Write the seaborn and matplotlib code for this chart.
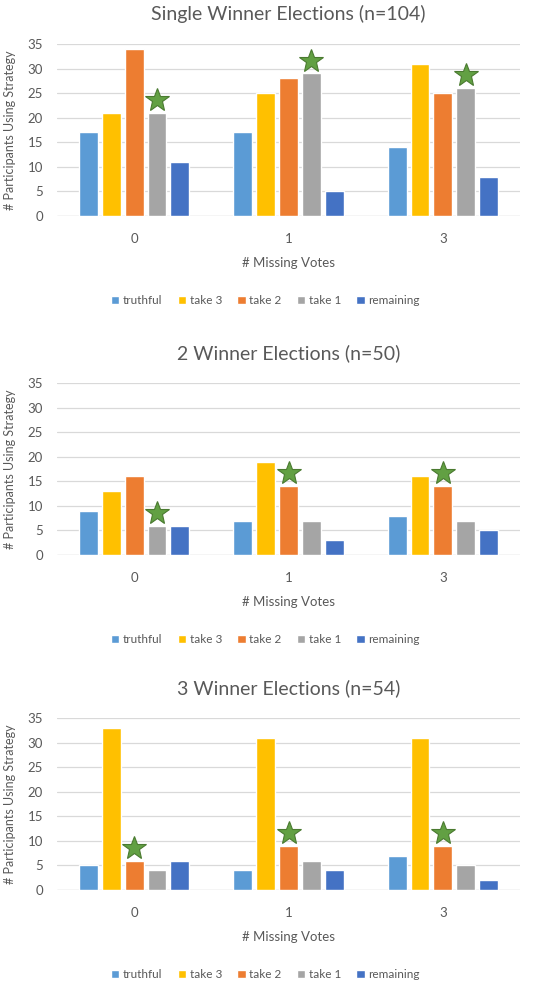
import pandas as pd
import matplotlib.pyplot as plt
import seaborn as sns
from matplotlib.patches import Patch

sns.set_style("white")
plt.rcParams['font.family'] = ['Lato', 'DejaVu Sans']

# data
missing_votes = ['0', '1', '3']
strategies = ['truthful', 'take 3', 'take 2', 'take 1', 'remaining']
colors = ['#5B9BD5', '#FFC000', '#ED7D31', '#A5A5A5', '#4472C4']

titles = ['Single Winner Elections (n=104)',
          '2 Winner Elections (n=50)',
          '3 Winner Elections (n=54)']

single_winner = [[17, 21, 34, 21, 11],
                 [17, 25, 28, 29, 5],
                 [14, 31, 25, 26, 8]]
two_winner = [[9, 13, 16, 6, 6],
              [7, 19, 14, 7, 3],
              [8, 16, 14, 7, 5]]
three_winner = [[5, 33, 6, 4, 6],
                [4, 31, 9, 6, 4],
                [7, 31, 9, 5, 2]]

# which strategy gets the star, per missing-votes group
single_star = ['take 1', 'take 1', 'take 1']
two_star = ['take 1', 'take 2', 'take 2']
three_star = ['take 2', 'take 2', 'take 2']

panels = [(single_winner, single_star),
          (two_winner, two_star),
          (three_winner, three_star)]

text_color = '#595959'


def to_frame(values):
    rows = []
    for mv, counts in zip(missing_votes, values):
        for strat, c in zip(strategies, counts):
            rows.append({'missing': mv, 'strategy': strat, 'count': c})
    return pd.DataFrame(rows)


fig = plt.figure(figsize=(5.35, 9.85), dpi=100)
W, H = 535, 985
tops = [44, 383, 718]
ax_h = 172

for i, ((values, stars), title) in enumerate(zip(panels, titles)):
    top = tops[i]
    ax = fig.add_axes([57 / W, 1 - (top + ax_h) / H, 463 / W, ax_h / H])
    df = to_frame(values)
    sns.barplot(data=df, x='missing', y='count', hue='strategy',
                hue_order=strategies, order=missing_votes,
                palette=colors, saturation=1, width=0.74, gap=0.18,
                legend=False, ax=ax, zorder=3)

    # stars above the marked bars
    for j, star in enumerate(stars):
        bar = ax.containers[strategies.index(star)][j]
        x = bar.get_x() + bar.get_width() / 2
        y = bar.get_height() + 2.6
        ax.plot(x, y, marker='*', markersize=18, color='#62A043',
                markeredgecolor='#4A7A30', markeredgewidth=0.8, zorder=4,
                clip_on=False)

    ax.set_ylim(0, 35)
    ax.set_yticks(range(0, 36, 5))
    ax.set_xlim(-0.5, 2.5)
    ax.yaxis.grid(True, color='#D9D9D9', linewidth=0.9, zorder=0)
    for s in ['top', 'right', 'left', 'bottom']:
        ax.spines[s].set_visible(False)
    ax.axhline(0, color='#D9D9D9', linewidth=0.9, zorder=2)
    ax.tick_params(axis='both', length=0, labelsize=9.5, colors=text_color)
    ax.tick_params(axis='x', pad=12)
    ax.tick_params(axis='y', pad=10)
    ax.set_xlabel('# Missing Votes', fontsize=9.5, color=text_color,
                  labelpad=9)
    ax.set_ylabel('# Participants Using Strategy', fontsize=9,
                  color=text_color, labelpad=8)
    ax.set_title(title, fontsize=14, color=text_color, pad=17)

    handles = [Patch(facecolor=c, label=s) for c, s in zip(colors, strategies)]
    ax.legend(handles=handles, loc='center', bbox_to_anchor=(0.45, -0.49),
              ncol=5, frameon=False, fontsize=8.5, handlelength=0.7,
              handleheight=0.7, handletextpad=0.3, columnspacing=1.3,
              labelcolor=text_color)

fig.savefig('out.png', dpi=100)
